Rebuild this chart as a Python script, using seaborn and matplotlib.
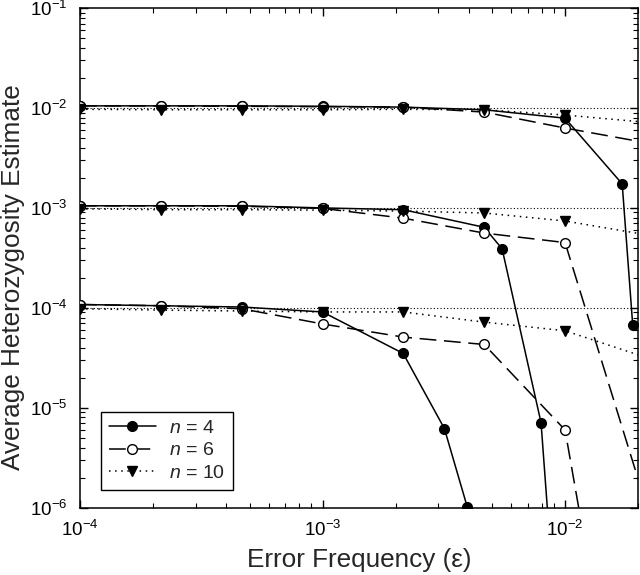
import numpy as np
import pandas as pd
import matplotlib
matplotlib.use("Agg")
import matplotlib.pyplot as plt
import seaborn as sns

sns.set_theme(style="ticks")
plt.rcParams["font.family"] = ["Liberation Sans", "DejaVu Sans"]
plt.rcParams["mathtext.fontset"] = "custom"
plt.rcParams["mathtext.rm"] = "Liberation Sans"
plt.rcParams["mathtext.it"] = "Liberation Sans:italic"
plt.rcParams["mathtext.default"] = "regular"

# error frequencies used for most runs
eps_grid = [1e-4, 2.15e-4, 4.64e-4, 1e-3, 2.15e-3, 4.64e-3, 1e-2, 2.15e-2]

# n = 4 (filled circles, solid) - extra points near the drop
n4_h2_x = [1e-4, 2.15e-4, 4.64e-4, 1e-3, 2.15e-3, 4.64e-3, 1e-2, 1.72e-2, 1.9e-2]
n4_h2_y = [1.05e-2, 1.05e-2, 1.05e-2, 1.04e-2, 1.02e-2, 9.6e-3, 7.9e-3, 1.74e-3, 6.8e-5]
n4_h3_x = [1e-4, 2.15e-4, 4.64e-4, 1e-3, 2.15e-3, 4.64e-3, 5.5e-3, 7.96e-3, 1e-2]
n4_h3_y = [1.05e-3, 1.05e-3, 1.05e-3, 1.0e-3, 9.6e-4, 6.4e-4, 3.9e-4, 7.1e-6, 3.9e-9]
n4_h4_x = [1e-4, 2.15e-4, 4.64e-4, 1e-3, 2.15e-3, 3.18e-3, 3.95e-3]
n4_h4_y = [1.08e-4, 1.05e-4, 1.02e-4, 9.1e-5, 3.5e-5, 6.2e-6, 1.02e-6]

# n = 6 (open circles, dashed)
n6_h2_y = [1.05e-2, 1.05e-2, 1.04e-2, 1.03e-2, 1.02e-2, 9.1e-3, 6.3e-3, 4.5e-3]
n6_h3_y = [1.05e-3, 1.05e-3, 1.04e-3, 9.9e-4, 7.9e-4, 5.6e-4, 4.5e-4, 1.1e-6]
n6_h4_y = [1.08e-4, 1.05e-4, 9.8e-5, 6.9e-5, 5.1e-5, 4.3e-5, 6.0e-6, 1.5e-10]

# n = 10 (triangles, dotted)
n10_h2_y = [9.7e-3, 9.6e-3, 9.6e-3, 9.6e-3, 9.7e-3, 9.6e-3, 8.5e-3, 7.2e-3]
n10_h3_y = [9.8e-4, 9.6e-4, 9.6e-4, 9.5e-4, 9.3e-4, 8.9e-4, 7.4e-4, 5.4e-4]
n10_h4_y = [9.8e-5, 9.5e-5, 9.3e-5, 9.1e-5, 9.1e-5, 7.2e-5, 5.9e-5, 3.2e-5]

true_het = [1e-2, 1e-3, 1e-4]

fig = plt.figure(figsize=(6.4, 5.75), dpi=100)
ax = fig.add_axes([0.125, 0.117, 0.872, 0.869])

for h in true_het:
    ax.axhline(h, color="black", lw=0.8, ls=(0, (1, 2)), zorder=1)

styles = {
    "4": dict(marker="o", mfc="black", ls="-"),
    "6": dict(marker="o", mfc="white", ls=(0, (11, 5))),
    "10": dict(marker="v", mfc="black", ls=(0, (1, 3))),
}
series = [
    ("4", n4_h2_x, n4_h2_y), ("4", n4_h3_x, n4_h3_y), ("4", n4_h4_x, n4_h4_y),
    ("6", eps_grid, n6_h2_y), ("6", eps_grid, n6_h3_y), ("6", eps_grid, n6_h4_y),
    ("10", eps_grid, n10_h2_y), ("10", eps_grid, n10_h3_y), ("10", eps_grid, n10_h4_y),
]
seen = set()
for n, xs, ys in series:
    df = pd.DataFrame({"eps": xs, "het": ys})
    lab = r"$\mathit{n}$ = " + n if n not in seen else "_nolegend_"
    seen.add(n)
    st = styles[n]
    sns.lineplot(data=df, x="eps", y="het", ax=ax, color="black", lw=1.1,
                 marker=st["marker"], markerfacecolor=st["mfc"], markeredgecolor="black",
                 markeredgewidth=1.0, markersize=7, linestyle=st["ls"],
                 estimator=None, sort=False, label=lab, zorder=3)

ax.set_xscale("log")
ax.set_yscale("log")
ax.set_xlim(1e-4, 2e-2)
ax.set_ylim(1e-6, 1e-1)
ax.tick_params(which="both", direction="in", top=True, right=True, labelsize=13.5, colors="black")
ax.tick_params(which="major", length=6, width=1, pad=9)
ax.tick_params(which="minor", length=3.5, width=0.8)
for sp in ax.spines.values():
    sp.set_linewidth(1.1)
    sp.set_color("black")

ax.set_xlabel("Error Frequency (ε)", fontsize=18.8)
ax.set_ylabel("Average Heterozygosity Estimate", fontsize=18.8)
ax.xaxis.set_label_coords(0.5, -0.08)
ax.yaxis.set_label_coords(-0.098, 0.462)

leg = ax.legend(loc="lower left", bbox_to_anchor=(0.038, 0.036), fontsize=14,
                frameon=True, fancybox=False, edgecolor="black", framealpha=1,
                handlelength=2.4, borderpad=0.4, labelspacing=0.25, handletextpad=0.7,
                borderaxespad=0)
leg.get_frame().set_linewidth(1.0)

fig.savefig("out.png", dpi=100)
